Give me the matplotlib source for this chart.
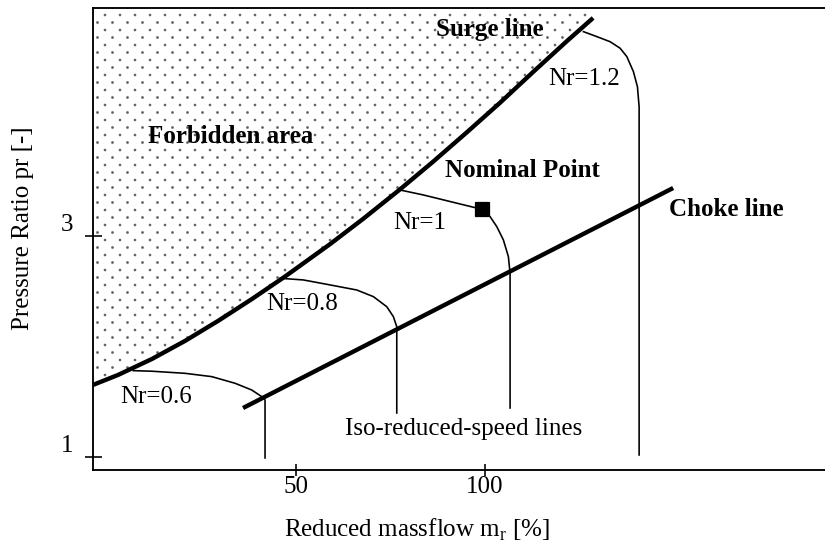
import matplotlib
matplotlib.use("Agg")
import matplotlib.pyplot as plt
import matplotlib.transforms as mtrans
import matplotlib.hatch as mhatch
from matplotlib.path import Path
import numpy as np

# ---------------- data ----------------
surge_x = [-3.70, 2.91, 11.90, 20.63, 29.37, 38.36, 47.09, 58.99, 67.72,
           77.51, 86.24, 95.24, 103.97, 112.70, 121.69, 128.57]
surge_y = [1.652, 1.742, 1.887, 2.050, 2.231, 2.430, 2.633, 2.926, 3.154,
           3.422, 3.672, 3.940, 4.206, 4.484, 4.765, 4.973]

choke_x = [35.98, 149.74]
choke_y = [1.443, 3.434]

nr06_x = [6.96, 11.83, 20.63, 27.70, 33.86, 38.28, 40.93, 41.80, 41.80]
nr06_y = [1.781, 1.776, 1.757, 1.727, 1.667, 1.606, 1.546, 1.516, 0.991]

nr08_x = [45.77, 51.93, 58.99, 66.06, 70.45, 73.99, 75.74, 76.64, 76.64]
nr08_y = [2.617, 2.602, 2.557, 2.511, 2.451, 2.360, 2.270, 2.179, 1.398]

nr10_x = [77.51, 83.68, 89.87, 96.90, 99.13, 101.32, 103.10, 104.84, 106.16,
          106.61, 106.61]
nr10_y = [3.416, 3.371, 3.319, 3.260, 3.242, 3.175, 3.084, 2.964, 2.813,
          2.662, 1.443]

nr12_x = [126.01, 129.55, 133.07, 135.71, 137.49, 139.23, 140.29, 140.74, 140.74]
nr12_y = [4.849, 4.804, 4.758, 4.699, 4.623, 4.487, 4.351, 4.170, 1.018]

nominal_x = [99.13]
nominal_y = [3.242]

x_ticks = [50, 100]
x_ticklabels = ["50", "100"]
y_ticks = [1, 3]
y_ticklabels = ["1", "3"]

x_lim = (-3.70, 189.9)
y_lim = (0.882, 5.063)

speed_labels = ["Nr=0.6", "Nr=0.8", "Nr=1", "Nr=1.2"]
speed_label_pos = [(3.4, 1.489), (42.1, 2.330), (75.7, 3.063), (116.7, 4.367)]

bold_labels = ["Surge line", "Forbidden area", "Nominal Point", "Choke line"]
bold_label_pos = [(87.0, 4.810), (10.8, 3.842), (89.4, 3.534), (148.7, 3.181)]

iso_label = "Iso-reduced-speed lines"
iso_label_pos = (63.0, 1.199)


# ---------------- staggered dot hatch (dots every col, rows at half spacing) ----
class StaggeredDots(mhatch.HatchPatternBase):
    filled = True

    def __init__(self, hatch, density):
        self.n = hatch.count('.') * density
        circ = Path.unit_circle()
        self.shape_vertices = circ.vertices
        self.shape_codes = circ.codes
        if self.n == 0:
            self.num_vertices = 0
        else:
            n = self.n
            self.num_shapes = (n + 1) * (n + 1) + n * n
            self.num_vertices = self.num_shapes * len(self.shape_vertices)

    def set_vertices_and_codes(self, vertices, codes):
        n = self.n
        step = 1.0 / n
        shp = self.shape_vertices * step * 0.07
        parts_v, parts_c = [], []
        for r in range(2 * n + 1):
            ypos = r * step / 2
            if r % 2 == 0:
                cols = np.linspace(0, 1, n + 1)
            else:
                cols = np.linspace(step / 2, 1 - step / 2, n)
            for c in cols:
                parts_v.append(shp + [c, ypos])
                parts_c.append(self.shape_codes)
        vertices[:] = np.concatenate(parts_v)
        codes[:] = np.concatenate(parts_c)


mhatch._hatch_types = [StaggeredDots if t is mhatch.SmallFilledCircles else t
                       for t in mhatch._hatch_types]

# ---------------- figure ----------------
DPI = 90
plt.rcParams["font.family"] = ["Liberation Serif", "DejaVu Serif"]
plt.rcParams["mathtext.fontset"] = "custom"
plt.rcParams["mathtext.rm"] = "Liberation Serif"
plt.rcParams["hatch.linewidth"] = 0.4
FS = 20

fig = plt.figure(figsize=(825 / DPI, 542 / DPI), dpi=DPI)
ax = fig.add_axes([93 / 825, 72 / 542, 1 - 93 / 825, 462 / 542])
ax.set_xlim(*x_lim)
ax.set_ylim(*y_lim)

# forbidden area
ax.fill_between(surge_x, surge_y, y_lim[1], facecolor="none",
                edgecolor="0.35", linewidth=0, hatch=".", zorder=1)

# surge & choke lines
ax.plot(surge_x, surge_y, color="black", lw=3.5, solid_capstyle="butt", zorder=4)
ax.plot(choke_x, choke_y, color="black", lw=3.5, solid_capstyle="butt", zorder=4)

# iso speed lines
for xs, ys in [(nr06_x, nr06_y), (nr08_x, nr08_y), (nr10_x, nr10_y), (nr12_x, nr12_y)]:
    ax.plot(xs, ys, color="black", lw=1.3, zorder=3)

ax.plot(nominal_x, nominal_y, marker="s", ms=10.5, color="black", ls="none", zorder=5)

for txt, (x, y) in zip(speed_labels, speed_label_pos):
    ax.text(x, y, txt, fontsize=FS, ha="left", va="baseline", zorder=6)
for txt, (x, y) in zip(bold_labels, bold_label_pos):
    ax.text(x, y, txt, fontsize=FS, fontweight="bold", ha="left", va="baseline", zorder=6)
ax.text(iso_label_pos[0], iso_label_pos[1], iso_label, fontsize=FS,
        ha="left", va="baseline", zorder=6)

# axes styling
ax.spines["right"].set_visible(False)
for s in ["left", "bottom", "top"]:
    ax.spines[s].set_linewidth(1.5)

ax.set_xticks(x_ticks)
ax.set_xticklabels(x_ticklabels)
ax.set_yticks(y_ticks)
ax.set_yticklabels(y_ticklabels)
ax.tick_params(axis="x", direction="inout", length=10, width=1.3, pad=0, labelsize=FS)
ax.tick_params(axis="y", direction="inout", length=13.6, width=1.3, pad=9, labelsize=FS)

shift = mtrans.ScaledTranslation(0, 13 / DPI, fig.dpi_scale_trans)
for lbl in ax.get_yticklabels():
    lbl.set_transform(lbl.get_transform() + shift)

ax.set_xlabel(r"Reduced massflow m$_\mathregular{r}$ [%]", fontsize=FS, va="center")
ax.xaxis.set_label_coords((417 - 93) / 732, (470 - 530) / 462)
ax.set_ylabel("Pressure Ratio pr [-]", fontsize=FS, va="center", ha="center")
ax.yaxis.set_label_coords((23 - 93) / 732, (470 - 228) / 462)

fig.savefig("out.png", dpi=DPI)
